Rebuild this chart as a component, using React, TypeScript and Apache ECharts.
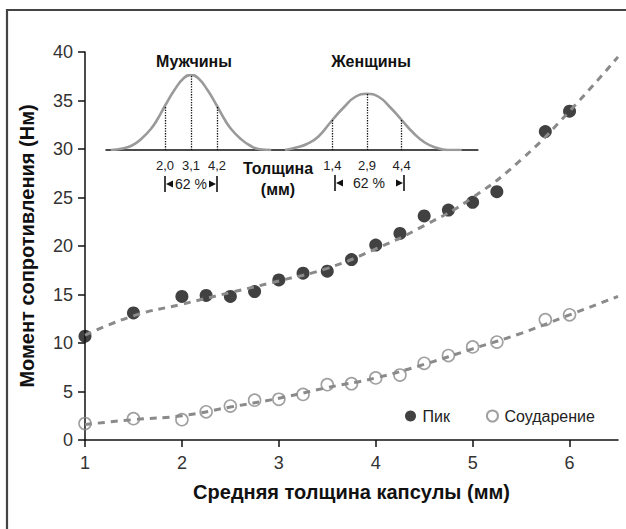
import React, { useEffect, useRef } from "react";
import * as echarts from "echarts";

// Main chart data: mean capsule thickness (mm) vs torque (Nm)
const thickness = [1, 1.5, 2, 2.25, 2.5, 2.75, 3, 3.25, 3.5, 3.75, 4, 4.25, 4.5, 4.75, 5, 5.25, 5.75, 6];
const peakValues = [10.7, 13.1, 14.8, 14.9, 14.8, 15.3, 16.5, 17.2, 17.4, 18.6, 20.1, 21.3, 23.1, 23.7, 24.5, 25.6, 31.8, 33.9];
const collisionValues = [1.7, 2.2, 2.1, 2.9, 3.5, 4.1, 4.2, 4.7, 5.7, 5.8, 6.4, 6.7, 7.9, 8.7, 9.6, 10.1, 12.4, 12.9];

// Trend lines
const trendX = [1, 1.5, 2, 2.5, 3, 3.5, 4, 4.5, 5, 5.5, 6, 6.5];
const peakTrend = [10.8, 12.8, 14.0, 15.2, 16.4, 17.7, 19.7, 22.1, 25.0, 28.9, 33.9, 39.5];
const collisionTrend = [1.6, 2.1, 2.5, 3.4, 4.3, 5.4, 6.4, 7.8, 9.4, 11.0, 12.9, 14.8];

// Axis ticks
const yMin = 0, yMax = 40, yStep = 5;
const xMin = 1, xMax = 6.5, xStep = 1;

// Inset distribution curves (thickness mm, relative height)
const menX = [-0.3, 0.2, 0.6, 1.0, 1.4, 1.7, 2.0, 2.4, 2.8, 3.1, 3.4, 3.8, 4.2, 4.5, 4.8, 5.2, 5.6, 6.0, 6.5];
const menH = [0, 0.02, 0.06, 0.15, 0.28, 0.42, 0.59, 0.8, 0.96, 1.0, 0.96, 0.8, 0.59, 0.42, 0.28, 0.15, 0.06, 0.01, 0];
const womenX = [-0.65, -0.2, 0.3, 0.8, 1.4, 1.9, 2.4, 2.9, 3.4, 3.9, 4.4, 4.9, 5.4, 5.9, 6.4, 7.0];
const womenH = [0, 0.03, 0.08, 0.18, 0.4, 0.57, 0.71, 0.75, 0.71, 0.57, 0.4, 0.23, 0.1, 0.03, 0, 0];
const menMarks = [2.0, 3.1, 4.2];
const menMarkH = [0.59, 1.0, 0.59];
const womenMarks = [1.4, 2.9, 4.4];
const womenMarkH = [0.4, 0.75, 0.4];
const shareLabel = "62 %";

const FONT = "'Liberation Sans', Arial, sans-serif";

const pairs = (xs: number[], ys: number[]) => xs.map((x, i) => [x, ys[i]]);
const commaFmt = (v: number) => v.toFixed(1).replace(".", ",");

function arrowGroup(x1: number, x2: number, y: number, textX: number) {
  const c = "#111";
  return [
    { type: "rect", shape: { x: x1 - 0.8, y: y - 8, width: 1.6, height: 16 }, style: { fill: c } },
    { type: "rect", shape: { x: x2 - 0.8, y: y - 8, width: 1.6, height: 16 }, style: { fill: c } },
    { type: "polygon", shape: { points: [[x1 + 1, y], [x1 + 8, y - 3.5], [x1 + 8, y + 3.5]] }, style: { fill: c } },
    { type: "polygon", shape: { points: [[x2 - 1, y], [x2 - 8, y - 3.5], [x2 - 8, y + 3.5]] }, style: { fill: c } },
    {
      type: "text", x: textX, y,
      style: { text: shareLabel, fontSize: 14, fontFamily: FONT, fill: "#222", align: "center", verticalAlign: "middle" },
    },
  ];
}

export default function App() {
  const ref = useRef<HTMLDivElement>(null);
  useEffect(() => {
    if (!ref.current) return;
    const chart = echarts.init(ref.current, null, { renderer: "svg" });
    const dashed = { color: "#8a8a8a", width: 3, type: [7, 6] as any };
    const insetCurve = { color: "#9a9a9a", width: 2.6 };
    const dotted = { type: "dotted" as any, color: "#111", width: 1.3 };
    const markPairs = (xs: number[], hs: number[]) =>
      xs.map((x, i) => [{ coord: [x, 0] }, { coord: [x, hs[i]] }]);

    chart.setOption({
      animation: false,
      backgroundColor: "#fff",
      textStyle: { fontFamily: FONT },
      grid: [
        { left: 85, top: 52, right: 8, bottom: 89 },
        { left: 106, top: 75, width: 172.3, height: 75 },
        { left: 279.2, top: 75, width: 198.7, height: 75 },
      ],
      xAxis: [
        {
          type: "value", gridIndex: 0, min: xMin, max: xMax, interval: xStep,
          name: "Средняя толщина капсулы (мм)", nameLocation: "middle", nameGap: 42,
          nameTextStyle: { fontSize: 20, fontWeight: "bold", color: "#111", fontFamily: FONT },
          axisLine: { show: true, lineStyle: { color: "#111", width: 1.5 } },
          axisTick: { show: true, length: 7, lineStyle: { color: "#111", width: 1.5 } },
          axisLabel: { fontSize: 18, color: "#333", margin: 14, fontFamily: FONT, showMaxLabel: false },
          splitLine: { show: false },
        },
        {
          type: "value", gridIndex: 1, min: -0.5, max: 6.8,
          axisLine: { show: true, lineStyle: { color: "#111", width: 1.5 } },
          axisTick: { show: false },
          axisLabel: { customValues: menMarks, formatter: commaFmt, fontSize: 13, color: "#222", margin: 9, fontFamily: FONT },
          splitLine: { show: false },
        },
        {
          type: "value", gridIndex: 2, min: -0.9, max: 7.7,
          axisLine: { show: true, lineStyle: { color: "#111", width: 1.5 } },
          axisTick: { show: false },
          axisLabel: { customValues: womenMarks, formatter: commaFmt, fontSize: 13, color: "#222", margin: 9, fontFamily: FONT },
          splitLine: { show: false },
        },
      ],
      yAxis: [
        {
          type: "value", gridIndex: 0, min: yMin, max: yMax, interval: yStep,
          name: "Момент сопротивления (Нм)", nameLocation: "middle", nameGap: 48,
          nameTextStyle: { fontSize: 20, fontWeight: "bold", color: "#111", fontFamily: FONT },
          axisLine: { show: true, lineStyle: { color: "#111", width: 1.5 } },
          axisTick: { show: true, length: 7, lineStyle: { color: "#111", width: 1.5 } },
          axisLabel: { fontSize: 18, color: "#333", margin: 12, fontFamily: FONT },
          splitLine: { show: false },
        },
        { type: "value", gridIndex: 1, min: 0, max: 1, show: false },
        { type: "value", gridIndex: 2, min: 0, max: 1, show: false },
      ],
      legend: {
        data: ["Пик", "Соударение"],
        left: 400, top: 403,
        itemWidth: 14, itemHeight: 11, itemGap: 36,
        textStyle: { fontSize: 16, color: "#222", fontFamily: FONT },
      },
      series: [
        {
          name: "Пик", type: "scatter", xAxisIndex: 0, yAxisIndex: 0, z: 2,
          data: pairs(thickness, peakValues), symbol: "circle", symbolSize: 13,
          itemStyle: { color: "#111" },
        },
        {
          name: "Соударение", type: "scatter", xAxisIndex: 0, yAxisIndex: 0, z: 2,
          data: pairs(thickness, collisionValues), symbol: "circle", symbolSize: 12,
          itemStyle: { color: "rgba(255,255,255,0)", borderColor: "#888", borderWidth: 1.6 },
        },
        {
          name: "peakTrend", type: "line", xAxisIndex: 0, yAxisIndex: 0, z: 3,
          data: pairs(trendX, peakTrend), smooth: true, symbol: "none", lineStyle: dashed,
        },
        {
          name: "collisionTrend", type: "line", xAxisIndex: 0, yAxisIndex: 0, z: 3,
          data: pairs(trendX, collisionTrend), smooth: true, symbol: "none", lineStyle: dashed,
        },
        {
          name: "men", type: "line", xAxisIndex: 1, yAxisIndex: 1, z: 3,
          data: pairs(menX, menH), smooth: true, symbol: "none", lineStyle: insetCurve,
          markLine: { silent: true, symbol: "none", label: { show: false }, lineStyle: dotted, data: markPairs(menMarks, menMarkH) },
        },
        {
          name: "women", type: "line", xAxisIndex: 2, yAxisIndex: 2, z: 3,
          data: pairs(womenX, womenH), smooth: true, symbol: "none", lineStyle: insetCurve,
          markLine: { silent: true, symbol: "none", label: { show: false }, lineStyle: dotted, data: markPairs(womenMarks, womenMarkH) },
        },
      ],
      graphic: [
        { type: "polyline", z: 100, shape: { points: [[7, 529], [7, 10], [626, 10]] }, style: { stroke: "#444", lineWidth: 2.2, fill: "none" } },
        { type: "text", x: 194, y: 61, style: { text: "Мужчины", fontSize: 16, fontWeight: "bold", fontFamily: FONT, fill: "#111", align: "center", verticalAlign: "middle" } },
        { type: "text", x: 371, y: 61, style: { text: "Женщины", fontSize: 16, fontWeight: "bold", fontFamily: FONT, fill: "#111", align: "center", verticalAlign: "middle" } },
        { type: "text", x: 278, y: 168, style: { text: "Толщина", fontSize: 16, fontWeight: "bold", fontFamily: FONT, fill: "#111", align: "center", verticalAlign: "middle" } },
        { type: "text", x: 278, y: 189, style: { text: "(мм)", fontSize: 16, fontWeight: "bold", fontFamily: FONT, fill: "#111", align: "center", verticalAlign: "middle" } },
        ...arrowGroup(165, 217, 184, 191),
        ...arrowGroup(335, 404, 183, 369),
      ],
    });
    return () => chart.dispose();
  }, []);
  return <div ref={ref} style={{ position: "absolute", left: 0, top: 0, width: 626, height: 529 }} />;
}
